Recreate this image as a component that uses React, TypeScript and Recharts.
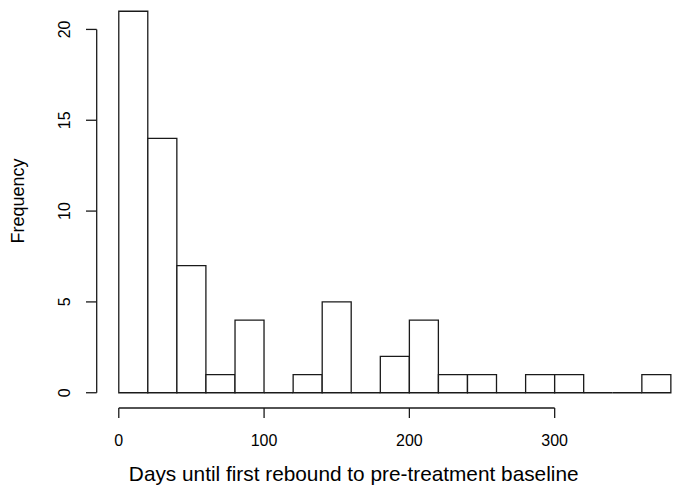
import { BarChart, Bar, XAxis, YAxis, ReferenceLine } from 'recharts';

// histogram bins (width 20 days) and their counts
const binStarts = [0, 20, 40, 60, 80, 100, 120, 140, 160, 180, 200, 220, 240, 260, 280, 300, 320, 340, 360];
const binWidth = 20;
const counts = [21, 14, 7, 1, 4, 0, 1, 5, 0, 2, 4, 1, 1, 0, 1, 1, 0, 0, 1];

const xTicks = [0, 100, 200, 300];
const yTicks = [0, 5, 10, 15, 20];
const xTitle = 'Days until first rebound to pre-treatment baseline';
const yTitle = 'Frequency';

// R pads the plot region 4% past the data range
const xDomain = [-15.2, 395.2];
const yDomain = [-0.84, 21.84];

const data = binStarts.map((start, i) => ({
  mid: start + binWidth / 2,
  count: counts[i],
}));

const INK = '#1a1a1a';
const FONT = '"Liberation Sans", Arial, Helvetica, sans-serif';

function HistBar(props: any) {
  const { x, y, width, height } = props;
  // path instead of rect so that empty bins still leave a line on the baseline
  return (
    <path
      d={`M${x},${y + height}V${y}H${x + width}V${y + height}Z`}
      fill="#fff"
      stroke={INK}
      strokeWidth={1.3}
    />
  );
}

function YTick(props: any) {
  const { x, y, payload } = props;
  return (
    <text
      x={x}
      y={y}
      transform={`rotate(-90 ${x} ${y})`}
      textAnchor="middle"
      fontSize={16}
      fill="#000"
      fontFamily={FONT}
    >
      {payload.value}
    </text>
  );
}

function XTitle(props: any) {
  const { viewBox } = props;
  return (
    <text
      x={viewBox.x + 257}
      y={viewBox.y + 73}
      textAnchor="middle"
      fontSize={20.8}
      fill="#000"
      fontFamily={FONT}
    >
      {xTitle}
    </text>
  );
}

function YTitle(props: any) {
  const { viewBox } = props;
  const cx = 24;
  const cy = viewBox.y + 205;
  return (
    <text
      x={cx}
      y={cy}
      transform={`rotate(-90 ${cx} ${cy})`}
      textAnchor="middle"
      fontSize={18}
      fill="#000"
      fontFamily={FONT}
    >
      {yTitle}
    </text>
  );
}

export default function App() {
  return (
    <div
      style={{
        position: 'absolute',
        left: 0,
        top: 0,
        width: 674,
        height: 497,
        overflow: 'hidden',
        background: '#fff',
        fontFamily: FONT,
      }}
    >
      <div style={{ position: 'absolute', left: 0, top: -10 }}>
        <BarChart
          width={720}
          height={520}
          data={data}
          margin={{ top: 6, right: 27, bottom: 62, left: 0 }}
          barCategoryGap={0}
          barGap={0}
        >
          <XAxis
            dataKey="mid"
            type="number"
            domain={xDomain}
            ticks={xTicks}
            allowDataOverflow
            height={40}
            axisLine={false}
            tickLine={{ stroke: INK, strokeWidth: 1.3 }}
            tickSize={10}
            tickMargin={16.5}
            tick={{ fill: '#000', fontSize: 16, fontFamily: FONT }}
            label={<XTitle />}
          />
          <YAxis
            type="number"
            domain={yDomain}
            ticks={yTicks}
            allowDataOverflow
            width={96.7}
            axisLine={false}
            tickLine={{ stroke: INK, strokeWidth: 1.3 }}
            tickSize={10.7}
            tickMargin={16}
            tick={<YTick />}
            label={<YTitle />}
          />
          <Bar dataKey="count" shape={<HistBar />} isAnimationActive={false} />
          <ReferenceLine
            segment={[
              { x: xTicks[0], y: yDomain[0] },
              { x: xTicks[xTicks.length - 1], y: yDomain[0] },
            ]}
            stroke={INK}
            strokeWidth={1.3}
            ifOverflow="visible"
          />
          <ReferenceLine
            segment={[
              { x: xDomain[0], y: yTicks[0] },
              { x: xDomain[0], y: yTicks[yTicks.length - 1] },
            ]}
            stroke={INK}
            strokeWidth={1.3}
            ifOverflow="visible"
          />
        </BarChart>
      </div>
    </div>
  );
}
